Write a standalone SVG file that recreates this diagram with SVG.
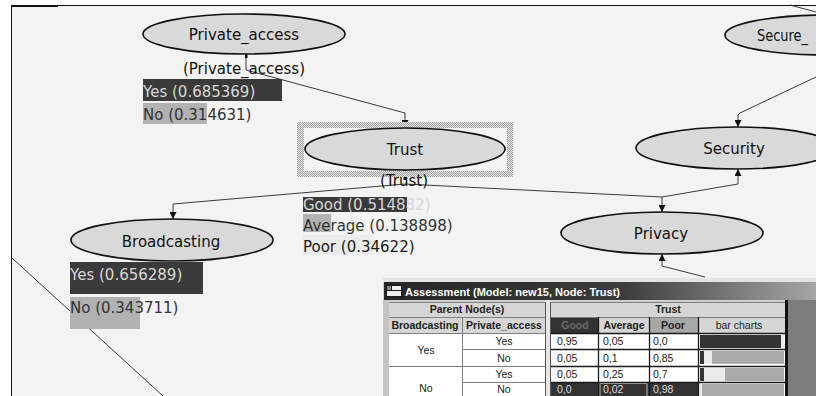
<svg xmlns="http://www.w3.org/2000/svg" width="816" height="396" viewBox="0 0 816 396">
<defs>
<style>
.node ellipse{fill:#d9d9d9;stroke:#111;stroke-width:1.6}
.nl{font-family:"DejaVu Sans",Verdana,sans-serif;font-size:15px;fill:#111}
.c{text-anchor:middle}
.edge{fill:none;stroke:#3a3a3a;stroke-width:1}
.dk{fill:#3a3a3a}
.md{fill:#b2b2b2}
.lt{fill:#d6d6d6}
.tb{font-family:"Liberation Sans",Arial,sans-serif;font-size:10.5px;fill:#222}
.b{font-weight:bold}
.hg{stroke:#808080;stroke-width:1;fill:none}
.bg{stroke:#1a1a1a;stroke-width:1.3;fill:none}
</style>
<marker id="ah" viewBox="0 0 8 8" refX="8" refY="4" markerWidth="7" markerHeight="7" markerUnits="userSpaceOnUse" orient="auto"><path d="M0,0 L8,4 L0,8 z" fill="#111"/></marker>
<pattern id="hatch" width="2" height="2" patternUnits="userSpaceOnUse"><rect width="2" height="2" fill="#e6e6e6"/><rect width="1" height="1" fill="#a0a0a0"/><rect x="1" y="1" width="1" height="1" fill="#a0a0a0"/></pattern>
<linearGradient id="title" x1="0" x2="1" y1="0" y2="0"><stop offset="0" stop-color="#252525"/><stop offset="0.55" stop-color="#3c3c3c"/><stop offset="1" stop-color="#a6a6a6"/></linearGradient>
</defs>

<rect width="816" height="396" fill="#ffffff"/>
<rect x="12" y="6" width="804" height="390" fill="#f3f3f3"/>
<line x1="11" y1="5.5" x2="816" y2="5.5" stroke="#111" stroke-width="1"/>
<line x1="11.5" y1="5" x2="11.5" y2="396" stroke="#111" stroke-width="1"/>
<rect x="12" y="5" width="46" height="2" fill="#111"/>

<g id="connectors">
<path class="edge" d="M12,258 L163,396"/>
<path class="edge" d="M246,55 L246,70 L405,113 L405,127" marker-end="url(#ah)"/>
<path class="edge" d="M405,184 L173,204 L173,219" marker-end="url(#ah)"/>
<path class="edge" d="M405,184 L662,197 L662,212" marker-end="url(#ah)"/>
<path class="edge" d="M662,197 L738,184 L738,169" marker-end="url(#ah)"/>
<path class="edge" d="M816,77 L740,113 L738,115 L738,127" marker-end="url(#ah)"/>
<path class="edge" d="M790,5 L816,12"/>
<path class="edge" d="M705,277 L662,266 L662,254" marker-end="url(#ah)"/>
<rect x="403.5" y="170" width="3" height="10" fill="#111"/>
<rect x="245" y="54" width="2.5" height="4" fill="#111"/>
</g>

<g id="node-private_access" class="node">
<ellipse cx="244" cy="34" rx="101" ry="20"/>
<text class="nl c" x="244" y="40">Private_access</text>
<text class="nl c" x="244" y="74">(Private_access)</text>
<rect class="dk" x="143" y="79" width="139" height="22"/>
<text class="nl" x="143" y="97" style="fill:#d8d8d8">Yes (0.685369)</text>
<rect class="md" x="143" y="103" width="64" height="21"/>
<text class="nl" x="143" y="120" style="fill:#333">No (0.314631)</text>
</g>

<g id="node-trust" class="node">
<path d="M297,122 H513 V177 H297 Z M304,128 V171 H507 V128 Z" fill="url(#hatch)" fill-rule="evenodd"/>
<ellipse cx="405" cy="149" rx="100" ry="21"/>
<text class="nl c" x="405" y="155">Trust</text>
<text class="nl c" x="404" y="186">(Trust)</text>
<rect class="dk" x="303" y="197" width="104" height="15"/>
<text class="nl" x="303" y="210" style="fill:#d6d6d6">Good (0.514882)</text>
<rect class="md" x="303" y="214" width="28" height="18"/>
<text class="nl" x="303" y="231" style="fill:#333">Average (0.138898)</text>
<rect x="303" y="235" width="70" height="20" fill="#ebebeb"/>
<text class="nl" x="303" y="252" style="fill:#1a1a1a">Poor (0.34622)</text>
</g>

<g id="node-broadcasting" class="node">
<ellipse cx="172" cy="240" rx="101" ry="21"/>
<text class="nl c" x="171" y="247">Broadcasting</text>
<rect class="dk" x="70" y="262" width="133" height="32"/>
<text class="nl" x="70" y="280" style="fill:#d8d8d8">Yes (0.656289)</text>
<rect class="md" x="70" y="297" width="70" height="32"/>
<text class="nl" x="70" y="313" style="fill:#333">No (0.343711)</text>
</g>

<g id="node-privacy" class="node">
<ellipse cx="662" cy="233" rx="101" ry="21"/>
<text class="nl c" x="661" y="239">Privacy</text>
</g>

<g id="node-security" class="node">
<ellipse cx="736" cy="148" rx="100" ry="21"/>
<text class="nl c" x="734" y="154">Security</text>
</g>

<g id="node-secure" class="node">
<ellipse cx="826" cy="35" rx="101" ry="20"/>
<text class="nl" x="757" y="41" textLength="51" lengthAdjust="spacingAndGlyphs">Secure_</text>
</g>

<g id="assessment">
<rect x="383" y="278" width="433" height="118" fill="#cfcfcf"/>
<rect x="383" y="278" width="433" height="4" fill="#e4e4e4"/>
<rect x="384" y="282" width="432" height="18" fill="url(#title)"/>
<rect x="386" y="285" width="16" height="12" fill="#1a1a1a"/>
<rect x="387" y="286" width="4" height="4" fill="#888"/>
<rect x="392" y="286" width="9" height="4" fill="#eee"/>
<rect x="387" y="291" width="14" height="5" fill="#eee"/>
<text x="405" y="296" font-family="Liberation Sans, Arial, sans-serif" font-size="11.5" font-weight="bold" fill="#fff" textLength="215" lengthAdjust="spacingAndGlyphs">Assessment (Model: new15, Node: Trust)</text>

<rect x="383" y="300" width="6" height="96" fill="#c4c4c4"/>
<rect class="lt" x="389" y="302" width="156" height="15"/>
<rect class="lt" x="389" y="317" width="73" height="16"/>
<rect class="lt" x="462" y="317" width="83" height="16"/>
<rect x="389" y="333" width="156" height="63" fill="#fff"/>
<rect x="545" y="300" width="6" height="96" fill="#e6e6e6"/>
<line x1="545.5" y1="302" x2="545.5" y2="396" stroke="#555"/>
<line x1="550.5" y1="302" x2="550.5" y2="396" stroke="#555"/>

<rect class="lt" x="551" y="302" width="234" height="15"/>
<rect x="551" y="317" width="47" height="16" fill="#333"/>
<rect class="lt" x="598" y="317" width="51" height="16"/>
<rect x="649" y="317" width="49" height="16" fill="#a8a8a8"/>
<rect class="lt" x="698" y="317" width="87" height="16"/>
<rect x="551" y="333" width="234" height="63" fill="#fff"/>
<rect x="551" y="382" width="147" height="14" fill="#333"/>
<rect x="600" y="383.5" width="47" height="13" fill="none" stroke="#bbb"/>

<rect x="700" y="335" width="81" height="13" fill="#333"/>
<rect x="781" y="335" width="3" height="13" fill="#ececec"/>
<rect x="700" y="351" width="4" height="13" fill="#333"/>
<rect x="704" y="351" width="8" height="13" fill="#eaeaea"/>
<rect x="712" y="351" width="72" height="13" fill="#aaa"/>
<rect x="700" y="368" width="4" height="13" fill="#333"/>
<rect x="704" y="368" width="21" height="13" fill="#eaeaea"/>
<rect x="725" y="368" width="59" height="13" fill="#aaa"/>
<rect x="700" y="384" width="2" height="12" fill="#eaeaea"/>
<rect x="702" y="384" width="82" height="12" fill="#aaa"/>

<path class="hg" d="M389,302.5 H545 M389,317.5 H545 M389,333.5 H545 M462.5,317 V396 M462,349.5 H545 M389,366.5 H545 M462,382.5 H545"/>
<path class="hg" d="M551,302.5 H785 M551,317.5 H785"/>
<path class="bg" d="M551,333.5 H785 M551,349.5 H785 M551,366.5 H785 M551,382.5 H785 M598.5,317 V396 M649.5,317 V396 M698.5,317 V396"/>

<rect x="785" y="300" width="3" height="96" fill="#111"/>
<rect x="788" y="300" width="28" height="96" fill="#7d7d7d"/>

<text class="tb b c" x="467" y="313">Parent Node(s)</text>
<text class="tb b c" x="668" y="313">Trust</text>
<text class="tb b c" x="425" y="329">Broadcasting</text>
<text class="tb b c" x="504" y="329">Private_access</text>
<text class="tb b c" x="575" y="329" style="fill:#6a6a6a">Good</text>
<text class="tb b c" x="624" y="329">Average</text>
<text class="tb b c" x="673" y="329">Poor</text>
<text class="tb c" x="739" y="329">bar charts</text>

<text class="tb c" x="426" y="354">Yes</text>
<text class="tb c" x="426" y="392">No</text>
<text class="tb c" x="504" y="345">Yes</text>
<text class="tb c" x="504" y="362">No</text>
<text class="tb c" x="504" y="378">Yes</text>
<text class="tb c" x="504" y="393">No</text>

<text class="tb" x="557" y="345">0,95</text>
<text class="tb" x="603" y="345">0,05</text>
<text class="tb" x="653" y="345">0,0</text>
<text class="tb" x="557" y="362">0,05</text>
<text class="tb" x="603" y="362">0,1</text>
<text class="tb" x="653" y="362">0,85</text>
<text class="tb" x="557" y="378">0,05</text>
<text class="tb" x="603" y="378">0,25</text>
<text class="tb" x="653" y="378">0,7</text>
<text class="tb" x="557" y="393" style="fill:#ddd">0,0</text>
<text class="tb" x="603" y="393" style="fill:#ddd">0,02</text>
<text class="tb" x="653" y="393" style="fill:#ddd">0,98</text>
</g>
</svg>
